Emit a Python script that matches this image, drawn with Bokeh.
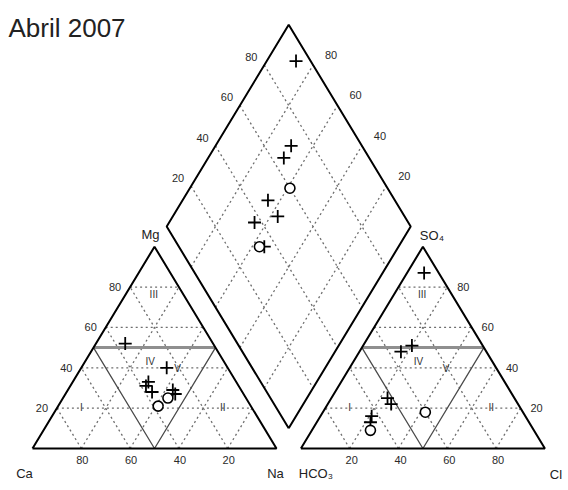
import numpy as np
from bokeh.plotting import figure
from bokeh.models import Range1d
from bokeh.embed import file_html
from bokeh.resources import INLINE
from bokeh.core.properties import value

# ---------------- data (percent of meq) ----------------
title_text = "Abril 2007"
ca   = [36, 36, 38, 37, 28, 25, 28, 38, 32]
mg   = [52, 33, 31, 28, 29, 40, 27, 21, 25]
na   = [12, 31, 31, 35, 43, 35, 45, 41, 43]
hco3 = [6, 29, 35, 52, 52, 63, 65, 40, 67]
so4  = [87, 51, 48, 25, 22, 16, 13, 18, 9]
cl   = [7, 20, 17, 23, 26, 21, 22, 42, 24]
markers = ["cross", "cross", "cross", "cross", "cross", "cross", "cross", "circle", "circle"]
grid_ticks = [20, 40, 60, 80]
facies_labels = ["I", "II", "III", "IV", "V"]

# ---------------- geometry ----------------
H = np.sqrt(3) / 2
G = 0.1                    # gap between triangles
SX, SY = 244.0, 233.0      # px per unit
W, HGT = 568, 488
X0 = -32 / SX
Y1 = 448 / SY

def px2x(px):
    return X0 + px / SX

def px2y(py):
    return Y1 - py / SY

def cat_xy(c, m, n):
    return n + m / 2.0, m * H

def an_xy(h, s, c):
    return 1 + G + c + s / 2.0, s * H

def dia_xy(n, cs):
    return (n + 1 + G + cs) / 2.0, H * (1 + G + cs - n)

p = figure(width=W, height=HGT, x_range=Range1d(X0, X0 + W / SX),
           y_range=Range1d(Y1 - HGT / SY, Y1), output_backend="svg",
           toolbar_location=None, min_border=0)
p.axis.visible = False
p.grid.visible = False
p.outline_line_color = None
p.background_fill_color = "white"

FONT = value("Liberation Sans")
DOT = dict(line_color="#6e6e6e", line_width=1.3, line_dash="2 3")

# ---------------- dotted grids ----------------
xs, ys = [], []
for t in grid_ticks:
    f = t / 100.0
    for fn in (cat_xy, an_xy):
        segs = [((1 - f, f, 0), (0, f, 1 - f)),
                ((1 - f, 0, f), (0, 1 - f, f)),
                ((f, 0, 1 - f), (f, 1 - f, 0))]
        for a, b in segs:
            xa, ya = fn(*a)
            xb, yb = fn(*b)
            xs.append([xa, xb]); ys.append([ya, yb])
    for a, b in (((f, 0), (f, 1)), ((0, f), (1, f))):
        xa, ya = dia_xy(*a)
        xb, yb = dia_xy(*b)
        xs.append([xa, xb]); ys.append([ya, yb])
p.multi_line(xs, ys, **DOT)

# ---------------- facies division lines ----------------
for fn in (cat_xy, an_xy):
    l = fn(0.5, 0.5, 0)
    r = fn(0, 0.5, 0.5)
    mid = fn(0.5, 0, 0.5)
    p.line([l[0], r[0]], [l[1], r[1]], line_color="#8f8f8f", line_width=3)
    p.line([l[0], mid[0], r[0]], [l[1], mid[1], r[1]], line_color="#4a4a4a", line_width=1.3)

# ---------------- outlines ----------------
for fn in (cat_xy, an_xy):
    pts = [fn(1, 0, 0), fn(0, 0, 1), fn(0, 1, 0), fn(1, 0, 0)]
    p.line([q[0] for q in pts], [q[1] for q in pts], line_color="black", line_width=2)
dpts = [dia_xy(1, 0), dia_xy(1, 1), dia_xy(0, 1), dia_xy(0, 0), dia_xy(1, 0)]
p.line([q[0] for q in dpts], [q[1] for q in dpts], line_color="black", line_width=2)

# ---------------- tick labels ----------------
tx, ty, tt = [], [], []
for t in grid_ticks:
    f = t / 100.0
    # Mg on left edge of cation triangle
    x, y = cat_xy(1 - f, f, 0); tx.append(x - 15 / SX); ty.append(y); tt.append(str(t))
    # Ca along base of cation triangle
    x, y = cat_xy(f, 0, 1 - f); tx.append(x + 1 / SX); ty.append(y - 11 / SY); tt.append(str(t))
    # SO4 on right edge of anion triangle
    x, y = an_xy(0, f, 1 - f); tx.append(x + 16 / SX); ty.append(y); tt.append(str(t))
    # Cl along base of anion triangle
    x, y = an_xy(1 - f, 0, f); tx.append(x + 2 / SX); ty.append(y - 11 / SY); tt.append(str(t))
    # diamond upper-left (SO4+Cl)
    x, y = dia_xy(0, f); tx.append(x - 13 / SX); ty.append(y + 8 / SY); tt.append(str(t))
    # diamond upper-right (Ca+Mg)
    x, y = dia_xy(1 - f, 1); tx.append(x + 18 / SX); ty.append(y + 10 / SY); tt.append(str(t))
p.text(tx, ty, text=tt, text_font=FONT, text_font_size="11px", text_color="#2a2a2a",
       text_align="center", text_baseline="middle")

# ---------------- facies labels ----------------
rel = {"I": (0.20, 0.176), "II": (0.78, 0.176), "III": (0.497, 0.663),
       "IV": (0.482, 0.374), "V": (0.595, 0.343)}
fx, fy, ft = [], [], []
for off in (0.0, 1 + G):
    for lab in facies_labels:
        a, b = rel[lab]
        fx.append(off + a); fy.append(b); ft.append(lab)
p.text(fx, fy, text=ft, text_font=FONT, text_font_size="10px", text_color="#333333",
       text_align="center", text_baseline="middle")

# ---------------- corner labels ----------------
apx, apy = cat_xy(0, 1, 0)
bpx, bpy = an_xy(0, 1, 0)
cx = [apx - 4 / SX, bpx + 9 / SX, 0 - 8 / SX, 1 - 1 / SX, 1 + G + 15 / SX, 2 + G + 11 / SX]
cy = [apy + 12 / SY, bpy + 11 / SY, -25 / SY, -25 / SY, -25 / SY, -26 / SY]
ct = ["Mg", "SO\u2084", "Ca", "Na", "HCO\u2083", "Cl"]
p.text(cx, cy, text=ct, text_font=FONT, text_font_size="13px", text_color="#222222",
       text_align="center", text_baseline="middle")

# ---------------- title ----------------
p.text([px2x(8)], [px2y(27)], text=[title_text], text_font=FONT, text_font_size="26px",
       text_color="#222222", text_align="left", text_baseline="alphabetic")

# ---------------- samples ----------------
for i in range(len(ca)):
    tot_c = ca[i] + mg[i] + na[i]
    tot_a = hco3[i] + so4[i] + cl[i]
    c, m, n = ca[i] / tot_c, mg[i] / tot_c, na[i] / tot_c
    h_, s, c2 = hco3[i] / tot_a, so4[i] / tot_a, cl[i] / tot_a
    pts = [cat_xy(c, m, n), an_xy(h_, s, c2), dia_xy(n, s + c2)]
    if markers[i] == "cross":
        p.scatter([q[0] for q in pts], [q[1] for q in pts], marker="cross", size=13,
                  line_color="black", line_width=1.8)
    else:
        p.scatter([q[0] for q in pts], [q[1] for q in pts], marker="circle", size=10,
                  line_color="black", fill_color="white", line_width=1.6)

open("out.html", "w").write(file_html(p, INLINE))
